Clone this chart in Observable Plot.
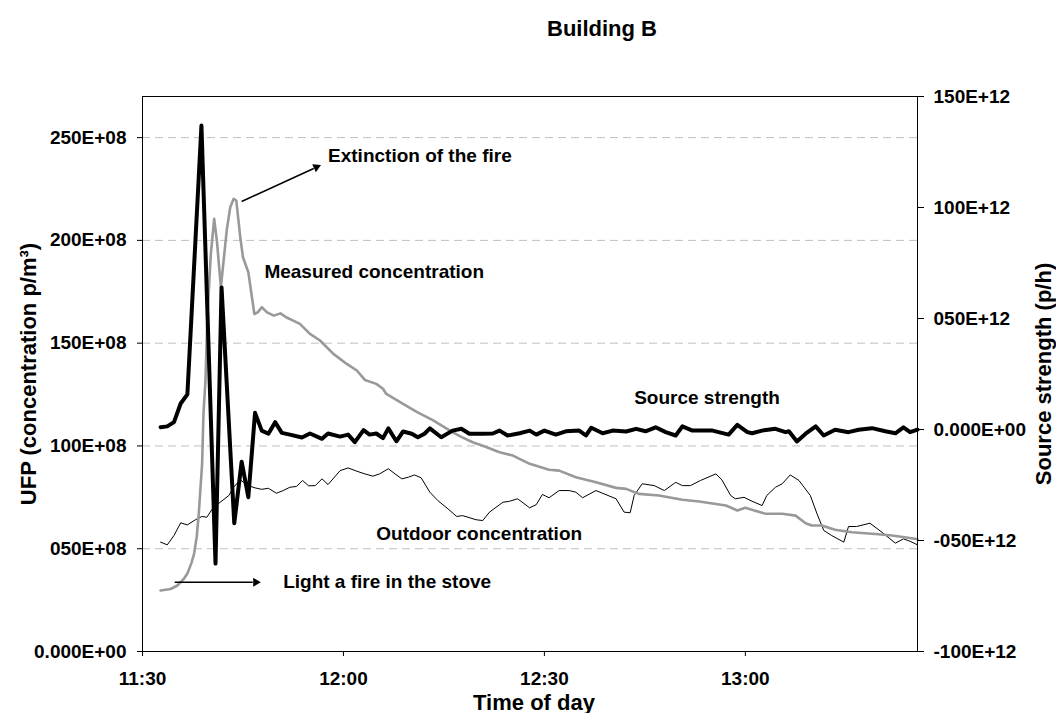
<!DOCTYPE html>
<html>
<head>
<meta charset="utf-8">
<script src="https://cdn.jsdelivr.net/npm/d3@7"></script>
<script src="https://cdn.jsdelivr.net/npm/@observablehq/plot@0.6"></script>
<style>
  html, body { margin: 0; padding: 0; background: #fff; }
</style>
</head>
<body>
<div id="chart"></div>
<script>
const chartTitle = "Building B";
const xTitle = "Time of day";
const yTitle = "UFP (concentration p/m³)";
const y2Title = "Source strength (p/h)";

// x ticks: minutes after 11:30
const xTickMinutes = [0, 30, 60, 90];
const xTickLabels = ["11:30", "12:00", "12:30", "13:00"];

// left axis, in units of 1E+08 p/m3
const leftTicks = [0, 50, 100, 150, 200, 250];
const leftTickLabels = ["0.000E+00", "050E+08", "100E+08", "150E+08", "200E+08", "250E+08"];

// right axis, in units of 1E+12 p/h
const rightTicks = [-100, -50, 0, 50, 100, 150];
const rightTickLabels = ["-100E+12", "-050E+12", "0.000E+00", "050E+12", "100E+12", "150E+12"];

// Measured concentration: [minutes after 11:30, 1E+08 p/m3]
const measured = [
  [2.7,29.7],[4.2,30.4],[5.2,32.1],[6.2,35.5],[6.7,37.9],[7.3,43],[7.7,47.5],[8.1,56],[8.4,67],
  [8.9,91.3],[9.1,115.6],[9.4,131.8],[9.7,163.9],[10.2,193.3],[10.7,210.5],[11.1,200],[11.7,177.2],
  [12.6,205.6],[13.1,216.1],[13.6,220.2],[14.0,219.4],[14.6,201.5],[15.0,191.8],[15.8,184.5],
  [16.7,164.2],[17.2,165],[17.8,167.5],[18.6,165],[19.6,163.4],[20.6,164.5],[21.5,162.5],[22.5,161],
  [23.5,159.4],[25.0,154.5],[26.5,151.3],[28.5,144.8],[30.5,139.9],[32.0,136.7],[33.2,132.1],
  [34.9,130.2],[35.9,127.8],[36.4,125.3],[38.9,120.5],[41.0,116.5],[43.4,112.4],[45.9,107.5],
  [47.5,104.5],[49.3,101.8],[51.3,99.5],[53.3,96.9],[55.3,95.3],[57.8,91.3],[60.7,88.4],[62.2,88.0],
  [64.7,84.8],[67.7,82.3],[70.7,79.6],[72.2,79.1],[74.1,76.7],[77.1,75.9],[80.6,73.8],[83.1,73.0],
  [87.1,71.0],[88.8,68.6],[90.0,69.9],[93.0,67.0],[95.5,67.0],[97.5,66.1],[99.0,62.4],[99.9,61.3],
  [101.4,61.3],[103.4,59.2],[105.9,58.0],[109.4,57.2],[111.9,56.4],[114.3,55.3],[115.7,54.6]
];

// Outdoor concentration: [minutes after 11:30, 1E+08 p/m3]
const outdoor = [
  [2.7,53.2],[3.7,51.9],[4.7,56.4],[5.7,62.6],[6.7,61.6],[7.9,64.1],[8.9,65.7],[9.6,65.3],[10.6,70.2],
  [11.6,72.6],[12.9,75.9],[13.6,79.9],[14.6,83.5],[15.8,80.7],[16.8,79.6],[17.8,78.9],[18.8,79.4],
  [20.0,77.0],[21.0,78.3],[22.0,79.9],[23.0,80.3],[23.9,83.2],[24.8,80.6],[25.8,80.7],[26.8,84.0],
  [27.7,81.2],[29.5,88.0],[30.7,89.3],[32.0,87.7],[33.2,86.4],[34.4,85.3],[35.4,86.4],[36.7,88.9],
  [37.7,86.4],[38.7,84.0],[39.7,84.8],[40.6,85.9],[41.6,84.5],[42.9,77.5],[44.1,73.4],[45.6,69.4],
  [46.9,65.7],[47.8,66.1],[49.8,64.1],[50.8,63.7],[51.8,67.8],[53.8,72.6],[54.8,73.1],[56.0,74.3],
  [57.8,69.9],[58.8,71.5],[59.7,76.4],[60.7,74.8],[62.2,78.3],[63.7,78.3],[64.7,77.5],[65.7,74.8],
  [67.7,78.3],[70.7,74.3],[71.9,67.8],[72.8,67.5],[73.4,75.9],[74.6,81.6],[76.4,80.7],[77.9,78.3],
  [79.6,82.3],[80.6,80.7],[81.8,80.7],[83.3,83.2],[85.6,86.4],[86.5,83.5],[87.8,75.9],[88.5,74.3],
  [89.8,75.0],[91.0,73.1],[92.5,71.0],[93.2,75.9],[94.5,79.9],[95.5,81.6],[96.7,85.9],[98.0,83.2],
  [99.7,75.9],[100.7,67.0],[101.7,58.9],[102.9,56.4],[104.7,53.2],[105.4,60.8],[106.6,60.8],
  [108.6,62.4],[110.4,58.0],[112.4,52.7],[113.6,54.8],[114.6,53.6],[115.7,51.9]
];

// Source strength: [minutes after 11:30, 1E+12 p/h]
const source = [
  [2.7,1.0],[3.7,1.4],[4.7,3.3],[5.7,11.7],[6.7,15.8],[8.8,136.9],[10.9,-60.4],[11.8,64.0],
  [13.7,-42.2],[14.8,-14.5],[15.8,-30.5],[16.8,7.5],[17.8,-0.5],[18.8,-1.9],[19.8,3.3],[20.8,-1.5],
  [22.0,-2.3],[23.8,-3.6],[25.0,-1.8],[26.8,-4.2],[27.7,-1.8],[29.5,-3.2],[30.7,-2.3],[31.7,-5.7],
  [33.0,-0.3],[33.9,-2.3],[34.9,-1.8],[35.9,-3.9],[36.7,0.5],[37.9,-5.3],[38.9,-0.9],[40.2,-1.9],
  [41.1,-3.5],[42.1,-1.9],[42.9,0.5],[44.6,-3.5],[46.3,-0.5],[47.6,0.3],[48.8,-1.9],[50.8,-1.9],
  [52.3,-1.8],[53.3,-0.5],[54.5,-2.7],[56.3,-1.7],[57.8,-0.5],[58.8,-2.3],[60.0,-0.5],[61.7,-2.3],
  [63.2,-0.8],[65.2,-0.5],[66.2,-2.7],[67.0,0.8],[68.7,-1.7],[70.2,-0.5],[72.2,-0.9],[73.7,0.3],
  [75.1,-0.8],[76.6,1.0],[78.1,-1.2],[79.6,-2.7],[80.6,1.4],[82.1,-0.5],[85.1,-0.5],[87.5,-2.3],
  [88.8,2.1],[90.3,-1.2],[91.0,-1.7],[92.5,-0.5],[94.5,0.3],[96.0,-1.2],[96.5,-0.8],[97.7,-5.4],
  [99.0,-1.9],[100.5,1.4],[101.7,-2.7],[103.4,-0.1],[105.4,-1.2],[106.9,-0.1],[108.9,0.6],
  [110.9,-0.8],[112.4,-1.7],[113.6,1.0],[114.6,-1.2],[115.7,-0.1]
];

// Annotations: [label, minutes after 11:30, left-axis value]
const annotations = [
  ["Extinction of the fire", 27.7, 241.2],
  ["Measured concentration", 18.2, 184.5],
  ["Source strength", 73.4, 123.5],
  ["Outdoor concentration", 34.9, 57.2],
  ["Light a fire in the stove", 21.0, 33.7]
];
// Arrows: [from minute, from value, to minute, to value]
const arrows = [
  [14.8, 218.9, 26.5, 236.4],
  [4.8, 33.7, 17.5, 33.7]
];

const leftMax = 270;
const rightMin = -100, rightMax = 150;
const toLeft = v => (v - rightMin) / (rightMax - rightMin) * leftMax;

const W = 1056, H = 713;
const M = {left: 142, right: 139, top: 96, bottom: 62};
const xDomain = [0, 115.7];
const yDomain = [0, leftMax];

// Scales used to orient the filled arrowheads along each arrow
const sx = Plot.scale({x: {domain: xDomain, range: [M.left, W - M.right]}});
const sy = Plot.scale({y: {domain: yDomain, range: [H - M.bottom, M.top]}});
const heads = arrows.map(([a, b, c, d]) => {
  const px1 = sx.apply(a), py1 = sy.apply(b), px2 = sx.apply(c), py2 = sy.apply(d);
  const len = Math.hypot(px2 - px1, py2 - py1);
  const ux = (px2 - px1) / len, uy = (py2 - py1) / len;
  const back = 4;
  return {
    x: sx.invert(px2 - ux * back), y: sy.invert(py2 - uy * back),
    sx: sx.invert(px2 - ux * 7), sy: sy.invert(py2 - uy * 7),
    angle: Math.atan2(ux, -uy) * 180 / Math.PI
  };
});

const fontFamily = '"Liberation Sans", Arial, Helvetica, sans-serif';

const chart = Plot.plot({
  width: W,
  height: H,
  marginLeft: M.left,
  marginRight: M.right,
  marginTop: M.top,
  marginBottom: M.bottom,
  x: {domain: xDomain},
  y: {domain: yDomain},
  style: {fontFamily, fontSize: "19px", fontWeight: "bold", color: "#000", background: "#fff", overflow: "visible"},
  marks: [
    Plot.ruleY(leftTicks.filter(d => d > 0), {stroke: "#c0c0c0", strokeWidth: 1, strokeDasharray: "8,5"}),
    Plot.line(outdoor, {x: d => d[0], y: d => d[1], stroke: "#000", strokeWidth: 1}),
    Plot.line(measured, {x: d => d[0], y: d => d[1], stroke: "#999999", strokeWidth: 2.6}),
    Plot.line(source, {x: d => d[0], y: d => toLeft(d[1]), stroke: "#000", strokeWidth: 4}),
    Plot.frame({stroke: "#000", strokeWidth: 1}),
    Plot.axisY({
      anchor: "left", ticks: leftTicks, label: null, tickSize: 5, tickPadding: 11,
      tickFormat: d => leftTickLabels[leftTicks.indexOf(d)]
    }),
    Plot.axisY({
      anchor: "right", ticks: rightTicks.map(toLeft), label: null, tickSize: 6, tickPadding: 10,
      tickFormat: d => rightTickLabels[rightTicks.findIndex(t => Math.abs(toLeft(t) - d) < 0.01)]
    }),
    Plot.axisX({
      ticks: xTickMinutes, label: null, tickSize: 5, tickPadding: 15,
      tickFormat: d => xTickLabels[xTickMinutes.indexOf(d)]
    }),
    Plot.text(annotations, {
      x: d => d[1], y: d => d[2], text: d => d[0],
      textAnchor: "start", lineAnchor: "middle", fontSize: 19, fontWeight: "bold", fill: "#000"
    }),
    Plot.link(arrows.map((a, i) => [a[0], a[1], heads[i].sx, heads[i].sy]), {
      x1: d => d[0], y1: d => d[1], x2: d => d[2], y2: d => d[3],
      stroke: "#000", strokeWidth: 1.6
    }),
    Plot.dot(heads, {x: "x", y: "y", rotate: "angle", symbol: "triangle2", r: 4.2, fill: "#000", stroke: "none"}),
    Plot.text([xTitle], {text: d => d, frameAnchor: "bottom", dx: 4, dy: 58, lineAnchor: "bottom", textAnchor: "middle", fontSize: 22, fontWeight: "bold"}),
    Plot.text([yTitle], {text: d => d, frameAnchor: "left", dx: -114, rotate: -90, lineAnchor: "middle", textAnchor: "middle", fontSize: 22, fontWeight: "bold"}),
    Plot.text([y2Title], {text: d => d, frameAnchor: "right", dx: 126, rotate: -90, lineAnchor: "middle", textAnchor: "middle", fontSize: 22, fontWeight: "bold"}),
    Plot.text([chartTitle], {text: d => d, frameAnchor: "top", dx: 72, dy: -61, lineAnchor: "bottom", textAnchor: "middle", fontSize: 22, fontWeight: "bold"})
  ]
});

document.getElementById("chart").appendChild(chart);
</script>
</body>
</html>
